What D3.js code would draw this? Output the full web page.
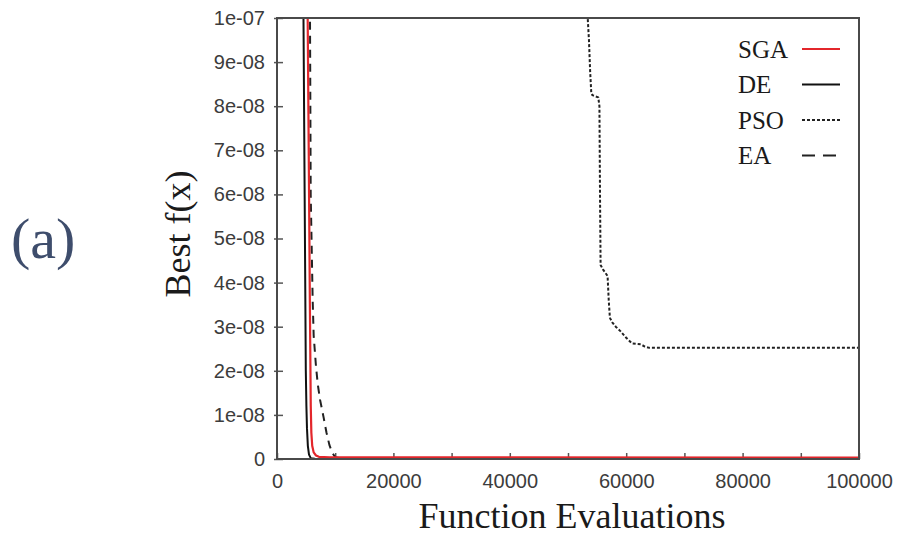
<!DOCTYPE html>
<html>
<head>
<meta charset="utf-8">
<script src="https://cdn.jsdelivr.net/npm/d3@7/dist/d3.min.js"></script>
<style>
  html, body { margin: 0; padding: 0; background: #fff; }
  svg { display: block; }
</style>
</head>
<body>
<svg id="chart" width="901" height="537"></svg>
<script>
// Convergence curves: best objective value vs. number of function evaluations
const evalsDE  = [4400, 4550, 4750, 4950, 5050, 5150, 5300, 5500, 5800, 6500, 10000, 100000];
const bestDE   = [1.15e-7, 1.0e-7, 6.0e-8, 2.0e-8, 1.2e-8, 7e-9, 3e-9, 1e-9, 2e-10, 5e-11, 2e-11, 1e-11];

const evalsSGA = [5150, 5270, 5450, 5650, 5800, 5900, 6050, 6300, 6700, 7200, 9000, 100000];
const bestSGA  = [1.15e-7, 1.0e-7, 7.0e-8, 3.5e-8, 1.2e-8, 6e-9, 3e-9, 1.5e-9, 8e-10, 5e-10, 4e-10, 3e-10];

const evalsEA  = [5550, 5670, 5790, 6130, 6300, 6700, 7000, 7400, 8000, 8500, 9000, 9500, 10000, 11000, 100000];
const bestEA   = [1.15e-7, 1.0e-7, 6.0e-8, 3.6e-8, 2.8e-8, 2.1e-8, 1.7e-8, 1.34e-8, 9.5e-9, 6e-9, 3.2e-9, 1.4e-9, 4e-10, 1e-10, 5e-11];

const evalsPSO = [53300, 53600, 53800, 54000, 54200, 55200, 55400, 55500, 55600, 56000, 56800, 57000, 57200, 57600, 58200, 59000, 60000, 61000, 62500, 63200, 64000, 100000];
const bestPSO  = [1.02e-7, 9.5e-8, 8.8e-8, 8.3e-8, 8.25e-8, 8.2e-8, 8.0e-8, 6.0e-8, 4.4e-8, 4.3e-8, 4.15e-8, 3.6e-8, 3.2e-8, 3.1e-8, 3.0e-8, 2.9e-8, 2.75e-8, 2.62e-8, 2.6e-8, 2.55e-8, 2.52e-8, 2.52e-8];

const seriesNames = ["SGA", "DE", "PSO", "EA"];

const xTickValues = [0, 10000, 20000, 30000, 40000, 50000, 60000, 70000, 80000, 90000, 100000];
const xTickLabels = ["0", "", "20000", "", "40000", "", "60000", "", "80000", "", "100000"];
const yTickValues = [0, 1e-8, 2e-8, 3e-8, 4e-8, 5e-8, 6e-8, 7e-8, 8e-8, 9e-8, 1e-7];
const yTickLabels = ["0", "1e-08", "2e-08", "3e-08", "4e-08", "5e-08", "6e-08", "7e-08", "8e-08", "9e-08", "1e-07"];

const svg = d3.select("#chart");
const plotLeft = 277, plotRight = 859, plotTop = 18, plotBottom = 459;

const x = d3.scaleLinear().domain([0, 100000]).range([plotLeft, plotRight]);
const y = d3.scaleLinear().domain([0, 1e-7]).range([plotBottom, plotTop]);

const sansFont = "'Liberation Sans', Arial, sans-serif";
const serifFont = "'Liberation Serif', 'Times New Roman', serif";

// clip the curves to the plotting frame
svg.append("defs").append("clipPath").attr("id", "plotClip")
  .append("rect")
  .attr("x", plotLeft).attr("y", plotTop)
  .attr("width", plotRight - plotLeft).attr("height", plotBottom - plotTop);

// axes with inward ticks
const xAxis = d3.axisBottom(x)
  .tickValues(xTickValues)
  .tickFormat((d, i) => xTickLabels[i])
  .tickSizeInner(-6).tickSizeOuter(0).tickPadding(15);
const yAxis = d3.axisLeft(y)
  .tickValues(yTickValues)
  .tickFormat((d, i) => yTickLabels[i])
  .tickSizeInner(-6).tickSizeOuter(0).tickPadding(12);

const gx = svg.append("g").attr("transform", `translate(0,${plotBottom})`).call(xAxis);
const gy = svg.append("g").attr("transform", `translate(${plotLeft},0)`).call(yAxis);
[gx, gy].forEach(g => {
  g.select(".domain").remove();
  g.selectAll(".tick line").attr("stroke", "#555").attr("stroke-width", 1.5);
  g.selectAll(".tick text")
    .attr("fill", "#3c3c3c")
    .style("font-family", sansFont)
    .style("font-size", "20px");
});
// y ticks poke slightly outside the frame as well
gy.selectAll(".tick line").attr("x1", -3).attr("x2", 6);

// curves
const line = d3.line()
  .x(d => x(d[0]))
  .y(d => y(d[1]));

const curves = [
  { name: "DE",  xs: evalsDE,  ys: bestDE,  color: "#111", width: 2,   dash: null },
  { name: "EA",  xs: evalsEA,  ys: bestEA,  color: "#222", width: 2,   dash: "8,6" },
  { name: "PSO", xs: evalsPSO, ys: bestPSO, color: "#222", width: 2,   dash: "3,2" },
  { name: "SGA", xs: evalsSGA, ys: bestSGA, color: "#e3262b", width: 2.2, dash: null }
];

const plot = svg.append("g").attr("clip-path", "url(#plotClip)");
curves.forEach(c => {
  plot.append("path")
    .datum(c.xs.map((v, i) => [v, c.ys[i]]))
    .attr("d", line)
    .attr("fill", "none")
    .attr("stroke", c.color)
    .attr("stroke-width", c.width)
    .attr("stroke-dasharray", c.dash)
    .attr("stroke-linejoin", "round");
});

// frame
svg.append("rect")
  .attr("x", plotLeft).attr("y", plotTop)
  .attr("width", plotRight - plotLeft).attr("height", plotBottom - plotTop)
  .attr("fill", "none")
  .attr("stroke", "#4a4a4a")
  .attr("stroke-width", 2);

// legend
const legendStyle = {
  SGA: { color: "#e3262b", dash: null },
  DE:  { color: "#111", dash: null },
  PSO: { color: "#222", dash: "3,2" },
  EA:  { color: "#222", dash: "13,8" }
};
const legend = svg.append("g");
seriesNames.forEach((name, i) => {
  const cy = 49 + i * 35.5;
  legend.append("text")
    .attr("x", 738).attr("y", cy + 8.5)
    .attr("fill", "#1a1a1a")
    .style("font-family", serifFont)
    .style("font-size", "25px")
    .text(name);
  legend.append("line")
    .attr("x1", 802).attr("x2", 840)
    .attr("y1", cy).attr("y2", cy)
    .attr("stroke", legendStyle[name].color)
    .attr("stroke-width", 2)
    .attr("stroke-dasharray", legendStyle[name].dash);
});

// axis titles
svg.append("text")
  .attr("x", 572).attr("y", 528)
  .attr("text-anchor", "middle")
  .attr("fill", "#1a1a1a")
  .style("font-family", serifFont)
  .style("font-size", "36px")
  .text("Function Evaluations");

svg.append("text")
  .attr("transform", "translate(190,234) rotate(-90)")
  .attr("text-anchor", "middle")
  .attr("fill", "#1a1a1a")
  .style("font-family", serifFont)
  .style("font-size", "36px")
  .text("Best f(x)");

// panel label
svg.append("text")
  .attr("x", 11).attr("y", 258)
  .attr("fill", "#3e4d6c")
  .style("font-family", serifFont)
  .style("font-size", "58px")
  .text("(a)");
</script>
</body>
</html>
